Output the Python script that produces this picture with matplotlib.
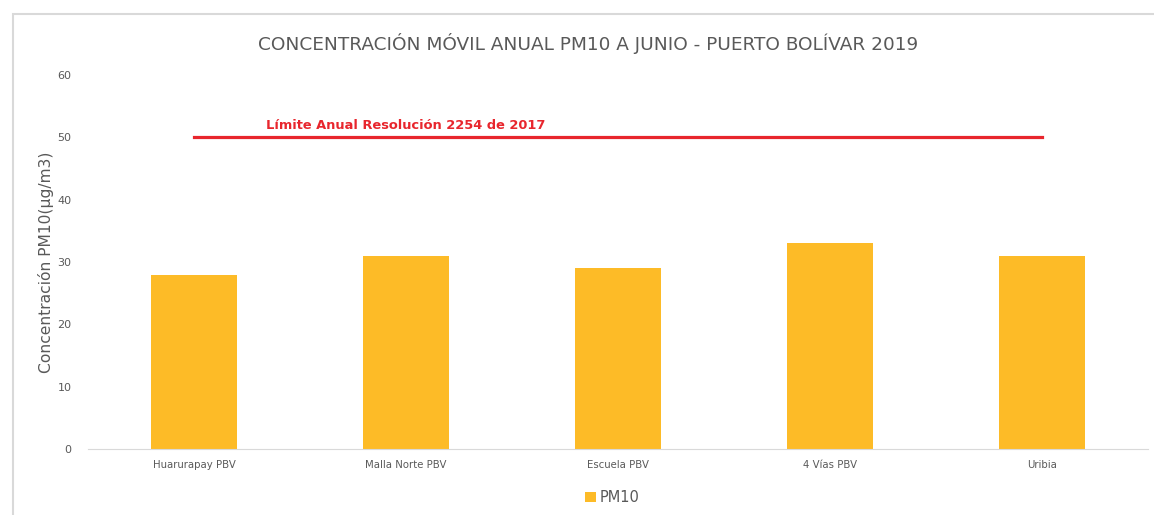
import matplotlib.pyplot as plt
from matplotlib.patches import Rectangle

estaciones = ["Huarurapay PBV", "Malla Norte PBV", "Escuela PBV", "4 Vías PBV", "Uribia"]
pm10 = [28, 31, 29, 33, 31]
limite = 50
limite_txt = "Límite Anual Resolución 2254 de 2017"
titulo = "CONCENTRACIÓN MÓVIL ANUAL PM10 A JUNIO - PUERTO BOLÍVAR 2019"

fig = plt.figure(figsize=(11.54, 5.15), dpi=100)
ax = fig.add_axes([0.0763, 0.128, 0.9185, 0.7264])

# marco del gráfico
fig.patches.append(Rectangle((0.011, -0.01), 1.0, 0.982, transform=fig.transFigure,
                             fill=False, edgecolor='#d9d9d9', linewidth=1.5))

x = list(range(len(estaciones)))
ax.bar(x, pm10, width=0.405, color='#FDBB27', label='PM10', zorder=2)
ax.plot([x[0], x[-1]], [limite, limite], color='#E8262D', linewidth=2.3, zorder=3)
ax.text(0.34, limite + 0.8, limite_txt, color='#E8262D', fontsize=9.4,
        fontweight='bold', ha='left', va='bottom')

ax.set_xlim(-0.5, len(estaciones) - 0.5)
ax.set_ylim(0, 60)
ax.set_yticks(range(0, 61, 10))
ax.set_xticks(x)
ax.set_xticklabels(estaciones, fontsize=7.3, color='#595959')
ax.tick_params(axis='y', labelsize=8, colors='#595959', length=0, pad=12)
ax.tick_params(axis='x', length=0, pad=8)
for s in ['top', 'right', 'left']:
    ax.spines[s].set_visible(False)
ax.spines['bottom'].set_color('#d9d9d9')

ax.set_ylabel('Concentración PM10(µg/m3)', fontsize=11.2, color='#595959')
ax.yaxis.set_label_coords(-0.032, 0.5)
fig.text(0.51, 0.915, titulo, ha='center', va='center', fontsize=13.3, color='#595959')

ax.legend(loc='upper center', bbox_to_anchor=(0.495, -0.075), frameon=False,
          fontsize=10.5, handlelength=0.7, handleheight=0.7, handletextpad=0.3,
          labelcolor='#595959')

fig.savefig('out.png', dpi=100)
